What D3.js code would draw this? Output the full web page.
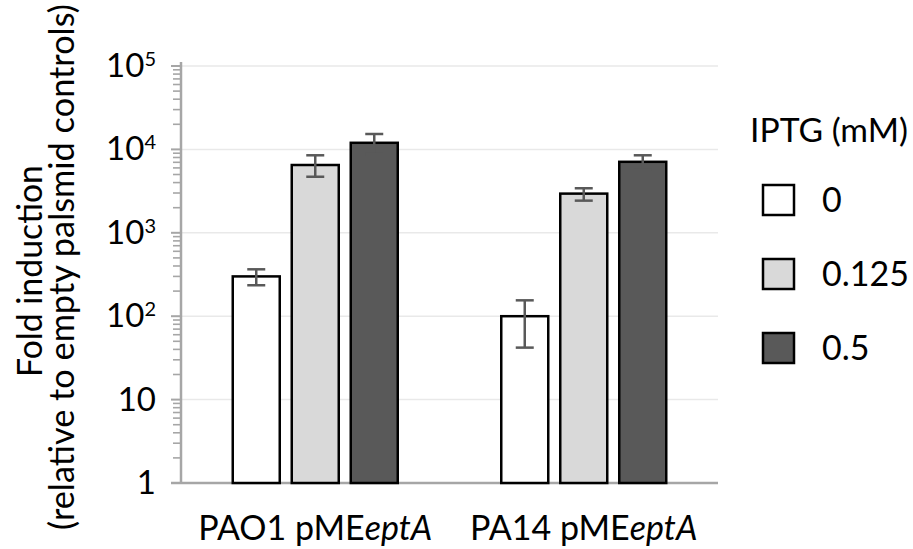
<!DOCTYPE html>
<html>
<head>
<meta charset="utf-8">
<script src="https://cdn.jsdelivr.net/npm/d3@7"></script>
<style>
  body { margin: 0; background: #fff; }
  svg { font-family: Lato, "Open Sans", sans-serif; }
</style>
</head>
<body>
<svg id="chart" width="913" height="549"></svg>
<script>
// valores
const strains = ["PAO1", "PA14"];
const doses = ["0", "0.125", "0.5"];
const pao1Mean = [300, 6500, 12000];
const pao1Hi = [365, 8500, 15300];
const pao1Lo = [235, 4700, 8800];
const pa14Mean = [100, 2950, 7100];
const pa14Hi = [155, 3420, 8500];
const pa14Lo = [42, 2430, 5700];
const yTicks = [1, 10, 100, 1000, 10000, 100000];
const fills = ["#ffffff", "#d9d9d9", "#595959"];

const series = [
  { strain: "PAO1", mean: pao1Mean, hi: pao1Hi, lo: pao1Lo },
  { strain: "PA14", mean: pa14Mean, hi: pa14Hi, lo: pa14Lo }
];

const svg = d3.select("#chart");
const mLeft = 181, mRight = 718, mTop = 66, mBottom = 483;

// ajusta el tamaño de letra para que el texto ocupe el ancho dado
function fitWidth(sel, w) {
  const node = sel.node();
  const fs = parseFloat(sel.attr("font-size"));
  const len = node.getComputedTextLength();
  if (len > 0) sel.attr("font-size", (fs * w / len).toFixed(2));
}

const y = d3.scaleLog().domain([1, 1e5]).range([mBottom, mTop]);
const x = d3.scaleBand().domain(strains).range([mLeft, mRight]);
const x1 = d3.scaleBand().domain(doses).range([-82.5, 82.5]).paddingInner(12 / 59);
const color = d3.scaleOrdinal().domain(doses).range(fills);

// lineas de la cuadricula
svg.append("g")
  .selectAll("line")
  .data(yTicks.slice(1))
  .join("line")
  .attr("x1", mLeft).attr("x2", mRight)
  .attr("y1", d => y(d)).attr("y2", d => y(d))
  .attr("stroke", "#e9e9e9")
  .attr("stroke-width", 1.5);

// eje y con marcas menores
const minor = [];
for (let k = 0; k < 5; k++) for (let m = 2; m <= 9; m++) minor.push(m * Math.pow(10, k));

const yAxis = svg.append("g").attr("transform", `translate(${mLeft},0)`);
yAxis.selectAll("line.minor")
  .data(minor)
  .join("line")
  .attr("class", "minor")
  .attr("x1", -8).attr("x2", 0)
  .attr("y1", d => y(d)).attr("y2", d => y(d))
  .attr("stroke", "#a6a6a6").attr("stroke-width", 1.6);
yAxis.selectAll("line.major")
  .data(yTicks)
  .join("line")
  .attr("class", "major")
  .attr("x1", -10).attr("x2", 0)
  .attr("y1", d => y(d)).attr("y2", d => y(d))
  .attr("stroke", "#a6a6a6").attr("stroke-width", 2);
yAxis.append("line")
  .attr("y1", mTop - 4).attr("y2", mBottom)
  .attr("stroke", "#a6a6a6").attr("stroke-width", 2.5);

// etiquetas 1, 10, 10^2 ...
const labels = yAxis.selectAll("text")
  .data(yTicks)
  .join("text")
  .attr("x", -25)
  .attr("y", d => y(d) + 11)
  .attr("text-anchor", "end")
  .attr("font-size", 33)
  .attr("fill", "#000");
labels.each(function (d) {
  const e = Math.round(Math.log10(d));
  const t = d3.select(this);
  if (e < 2) {
    t.text(d);
  } else {
    t.append("tspan").text("10");
    t.append("tspan").attr("font-size", 20).attr("dy", -11).text(e);
  }
});

// eje x
svg.append("line")
  .attr("x1", mLeft - 10).attr("x2", mRight)
  .attr("y1", mBottom).attr("y2", mBottom)
  .attr("stroke", "#a6a6a6").attr("stroke-width", 2.5);

// barras
const groups = svg.append("g")
  .selectAll("g")
  .data(series)
  .join("g")
  .attr("transform", d => `translate(${x(d.strain) + x.bandwidth() / 2},0)`);

groups.selectAll("rect")
  .data(d => doses.map((dose, i) => ({ dose, v: d.mean[i] })))
  .join("rect")
  .attr("x", d => x1(d.dose))
  .attr("width", x1.bandwidth())
  .attr("y", d => y(d.v))
  .attr("height", d => mBottom - y(d.v))
  .attr("fill", d => color(d.dose))
  .attr("stroke", "#000")
  .attr("stroke-width", 2.5);

// barras de error
const err = groups.selectAll("g.err")
  .data(d => doses.map((dose, i) => ({ dose, hi: d.hi[i], lo: d.lo[i] })))
  .join("g")
  .attr("class", "err")
  .attr("transform", d => `translate(${x1(d.dose) + x1.bandwidth() / 2},0)`)
  .attr("stroke", "#595959")
  .attr("stroke-width", 2.5);
err.append("line").attr("y1", d => y(d.hi)).attr("y2", d => y(d.lo));
err.append("line").attr("x1", -9).attr("x2", 9).attr("y1", d => y(d.hi)).attr("y2", d => y(d.hi));
err.append("line").attr("x1", -9).attr("x2", 9).attr("y1", d => y(d.lo)).attr("y2", d => y(d.lo));

// etiquetas de categoria
const xl = svg.append("g")
  .selectAll("text")
  .data(strains)
  .join("text")
  .attr("x", d => x(d) + x.bandwidth() / 2)
  .attr("y", 540)
  .attr("text-anchor", "middle")
  .attr("font-size", 34);
xl.append("tspan").text(d => d + " pME");
xl.append("tspan").attr("font-style", "italic").text("eptA");

// titulo del eje y (dos lineas)
const yt1 = svg.append("text")
  .attr("transform", "rotate(-90)")
  .attr("text-anchor", "middle")
  .attr("x", -271).attr("y", 42)
  .attr("font-size", 34)
  .text("Fold induction");
fitWidth(yt1, 212);
const yt2 = svg.append("text")
  .attr("transform", "rotate(-90)")
  .attr("text-anchor", "middle")
  .attr("x", -267).attr("y", 74)
  .attr("font-size", 34)
  .text("(relative to empty palsmid controls)");
fitWidth(yt2, 526);

// leyenda
const legend = svg.append("g");
const lt = legend.append("text")
  .attr("x", 750).attr("y", 142)
  .attr("font-size", 34)
  .text("IPTG (mM)");
fitWidth(lt, 158);
const items = legend.selectAll("g")
  .data(doses)
  .join("g")
  .attr("transform", (d, i) => `translate(763,${185 + i * 74})`);
items.append("rect")
  .attr("width", 31).attr("height", 30)
  .attr("fill", d => color(d))
  .attr("stroke", "#000").attr("stroke-width", 2.5);
items.append("text")
  .attr("x", 59).attr("y", 27)
  .attr("font-size", 34)
  .text(d => d);
</script>
</body>
</html>
